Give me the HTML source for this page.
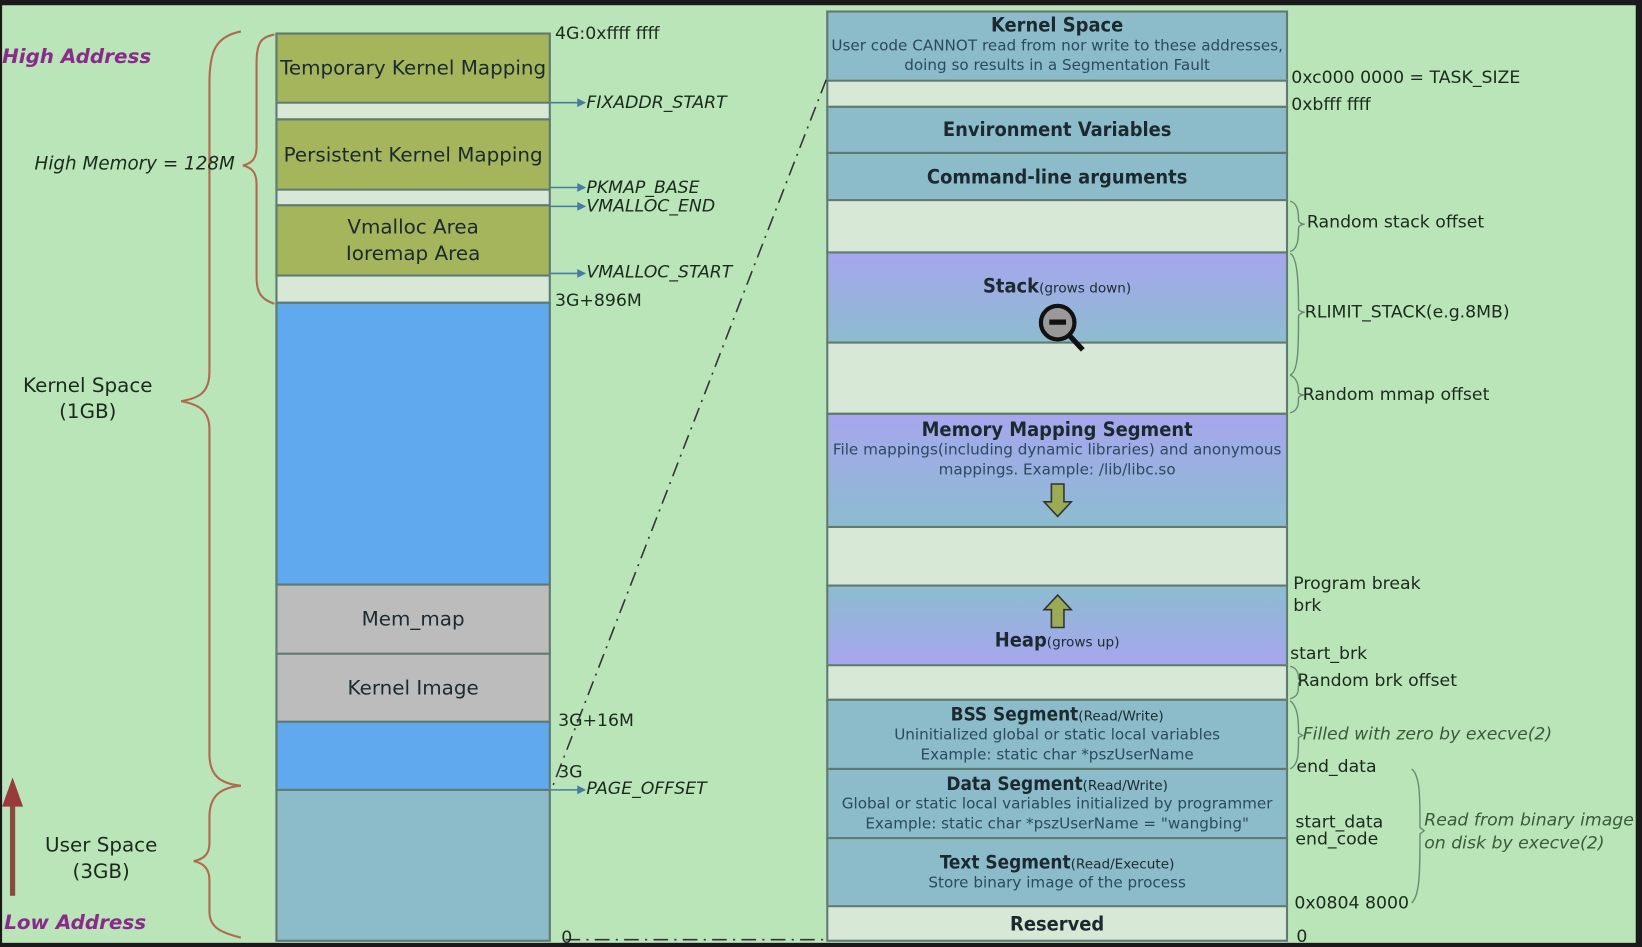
<!DOCTYPE html>
<html><head><meta charset="utf-8"><style>
html,body{margin:0;padding:0;background:#1a1a1a;}
#wrap{width:1642px;height:947px;overflow:hidden;position:relative;background:#1a1a1a;}
#s{position:absolute;left:0;top:0;width:1568px;height:904px;transform:scale(1.0472,1.0476);transform-origin:0 0;font-family:"DejaVu Sans Condensed","DejaVu Sans","Liberation Sans",sans-serif;}
#bg{position:absolute;left:2px;top:5px;width:1560px;height:895px;background:#b9e5b9;}
.b{position:absolute;box-sizing:border-box;border:2px solid #5f7a70;text-align:center;color:#1c2a30;display:flex;flex-direction:column;justify-content:center;align-items:center;}
.ol{background:#a5b55b;font-size:19px;font-family:"DejaVu Sans",sans-serif;}
.gp{background:#d8e8d6;}
.bl{background:#60a9ee;}
.gr{background:#bcbcbc;font-size:19px;font-family:"DejaVu Sans",sans-serif;}
.st{background:#8cbcca;}
.t{position:absolute;font-size:16.5px;color:#1c2a1c;white-space:nowrap;font-family:"DejaVu Sans",sans-serif;}
.i{font-style:italic;}
.h{font-weight:bold;font-size:19px;}
.sm{font-size:14.5px;line-height:19px;font-family:"DejaVu Sans",sans-serif;}
.sx{font-size:13px;font-weight:normal;font-family:"DejaVu Sans",sans-serif;}
</style></head><body><div id="wrap"><div id="s">
<div id="bg"></div>
<div class="b ol" style="left:263px;top:31px;width:263px;height:68px;">Temporary Kernel Mapping</div>
<div class="b gp" style="left:263px;top:97px;width:263px;height:18px;"></div>
<div class="b ol" style="left:263px;top:113px;width:263px;height:69px;">Persistent Kernel Mapping</div>
<div class="b gp" style="left:263px;top:180px;width:263px;height:17px;"></div>
<div class="b ol" style="left:263px;top:195px;width:263px;height:69px;line-height:25px;">Vmalloc Area<br>Ioremap Area</div>
<div class="b gp" style="left:263px;top:262px;width:263px;height:28px;"></div>
<div class="b bl" style="left:263px;top:288px;width:263px;height:271px;"></div>
<div class="b gr" style="left:263px;top:557px;width:263px;height:68px;">Mem_map</div>
<div class="b gr" style="left:263px;top:623px;width:263px;height:67px;">Kernel Image</div>
<div class="b bl" style="left:263px;top:688px;width:263px;height:67px;"></div>
<div class="b st" style="left:263px;top:753px;width:263px;height:146px;"></div>
<div class="b st" style="left:789px;top:10px;width:441px;height:68px;justify-content:flex-start;"><div class="h" style="margin-top:1px">Kernel Space</div><div class="sm" style="color:#2a4a60">User code CANNOT read from nor write to these addresses,<br>doing so results in a Segmentation Fault</div></div>
<div class="b gp" style="left:789px;top:76px;width:441px;height:27px;"></div>
<div class="b st h" style="left:789px;top:101px;width:441px;height:46px;">Environment Variables</div>
<div class="b st h" style="left:789px;top:145px;width:441px;height:47px;">Command-line arguments</div>
<div class="b gp" style="left:789px;top:190px;width:441px;height:52px;"></div>
<div class="b" style="left:789px;top:240px;width:441px;height:88px;background:linear-gradient(#a7a6ee,#8cbcd0);justify-content:flex-start;"><div class="h" style="margin-top:20px">Stack<span class="sx">(grows down)</span></div></div>
<div class="b gp" style="left:789px;top:326px;width:441px;height:70px;"></div>
<div class="b" style="left:789px;top:394px;width:441px;height:110px;background:linear-gradient(#a7a6ee,#8cbcd0);justify-content:flex-start;"><div class="h" style="margin-top:3px">Memory Mapping Segment</div><div class="sm" style="color:#2a4a60">File mappings(including dynamic libraries) and anonymous<br>mappings. Example: /lib/libc.so</div>
<svg width="30" height="34" style="margin-top:2px"><path d="M9 1 H21 V18 H28 L15 32 L2 18 H9 Z" fill="#9aaa55" stroke="#333" stroke-width="1.5"/></svg></div>
<div class="b gp" style="left:789px;top:502px;width:441px;height:58px;"></div>
<div class="b" style="left:789px;top:558px;width:441px;height:78px;background:linear-gradient(#8cbcd0,#a7a6ee);justify-content:flex-start;">
<svg width="30" height="34" style="margin-top:6px"><path d="M9 33 H21 V16 H28 L15 2 L2 16 H9 Z" fill="#9aaa55" stroke="#333" stroke-width="1.5"/></svg>
<div class="h">Heap<span class="sx">(grows up)</span></div></div>
<div class="b gp" style="left:789px;top:634px;width:441px;height:35px;"></div>
<div class="b st" style="left:789px;top:667px;width:441px;height:68px;"><div class="h" style="font-size:18px">BSS Segment<span class="sx">(Read/Write)</span></div><div class="sm" style="color:#2a4a60">Uninitialized global or static local variables<br>Example: static char *pszUserName</div></div>
<div class="b st" style="left:789px;top:733px;width:441px;height:68px;"><div class="h" style="font-size:18px">Data Segment<span class="sx">(Read/Write)</span></div><div class="sm" style="color:#2a4a60">Global or static local variables initialized by programmer<br>Example: static char *pszUserName = "wangbing"</div></div>
<div class="b st" style="left:789px;top:799px;width:441px;height:67px;"><div class="h" style="font-size:18px">Text Segment<span class="sx">(Read/Execute)</span></div><div class="sm" style="color:#2a4a60">Store binary image of the process</div></div>
<div class="b gp h" style="left:789px;top:864px;width:441px;height:35px;">Reserved</div>
<svg style="position:absolute;left:0;top:0" width="1568" height="904">
<g fill="none" stroke="#b06a50" stroke-width="2">
<path d="M230 30 C205 35 200 50 200 80 L200 355 C200 375 190 380 173 383 C190 386 200 392 200 410 L200 720 C200 740 210 748 230 750"/>
<path d="M230 750 C210 752 200 760 200 780 L200 805 C200 815 195 820 185 822 C195 824 200 830 200 840 L200 870 C200 885 210 890 230 895"/>
<path d="M262 33 C250 35 245 40 245 60 L245 140 C245 152 240 156 232 158 C240 160 245 164 245 176 L245 265 C245 280 250 286 262 290"/>
</g>
<g fill="none" stroke="#6a8a70" stroke-width="1.3">
<path d="M1232 192 C1240 194 1240 205 1240 210 C1240 213 1244 214 1246 214 C1244 214 1240 215 1240 218 C1240 225 1240 238 1232 240"/>
<path d="M1232 242 C1240 245 1240 280 1240 295 C1240 297 1244 298 1246 298 C1244 298 1240 300 1240 302 C1240 330 1240 355 1232 358"/>
<path d="M1232 358 C1240 362 1240 370 1240 375 C1240 376 1244 377 1246 377 C1244 377 1240 378 1240 380 C1240 385 1240 392 1232 394"/>
<path d="M1232 636 C1240 638 1240 645 1240 648 L1244 650 L1240 652 C1240 660 1240 665 1232 667"/>
<path d="M1232 669 C1240 675 1240 690 1240 700 L1244 702 L1240 704 C1240 720 1240 730 1232 734"/>
<path d="M1348 734 C1356 740 1356 760 1356 790 L1360 793 L1356 796 C1356 830 1356 855 1348 862"/>
</g>
<g stroke="#4a7aa0" stroke-width="1.5" fill="#4a7aa0">
<line x1="526" y1="98" x2="552" y2="98"/><path d="M552 95 L558 98 L552 101Z"/>
<line x1="526" y1="179" x2="552" y2="179"/><path d="M552 176 L558 179 L552 182Z"/>
<line x1="526" y1="197" x2="552" y2="197"/><path d="M552 194 L558 197 L552 200Z"/>
<line x1="526" y1="261" x2="552" y2="261"/><path d="M552 258 L558 261 L552 264Z"/>
<line x1="526" y1="754" x2="552" y2="754"/><path d="M552 751 L558 754 L552 757Z"/>
</g>
<g stroke="#333" stroke-width="1.5" fill="none" stroke-dasharray="14,6,2,6">
<line x1="789" y1="76" x2="528" y2="750"/>
<line x1="540" y1="897" x2="789" y2="897"/>
</g>
<line x1="12" y1="855" x2="12" y2="768" stroke="#8a4a40" stroke-width="5"/>
<path d="M2 770 L12 742 L22 770Z" fill="#9a3a3a"/>
<circle cx="1010" cy="308" r="16" fill="#999" stroke="#111" stroke-width="4"/>
<line x1="1021" y1="320" x2="1034" y2="334" stroke="#111" stroke-width="5"/>
<rect x="1002" y="305" width="16" height="5" fill="#111"/>
</svg>
<div class="t i" style="left:2px;top:43px;font-size:19px;font-weight:bold;color:#8a2a8a;">High Address</div>
<div class="t i" style="left:4px;top:870px;font-size:19px;font-weight:bold;color:#8a2a8a;">Low Address</div>
<div class="t i" style="left:33px;top:147px;font-size:17.5px;">High Memory = 128M</div>
<div class="t" style="left:22px;top:356px;font-size:19px;text-align:center;line-height:25px;">Kernel Space<br>(1GB)</div>
<div class="t" style="left:43px;top:795px;font-size:19px;text-align:center;line-height:25px;">User Space<br>(3GB)</div>
<div class="t" style="left:530px;top:22px;">4G:0xffff ffff</div>
<div class="t i" style="left:560px;top:88px;">FIXADDR_START</div>
<div class="t i" style="left:560px;top:169px;">PKMAP_BASE</div>
<div class="t i" style="left:560px;top:187px;">VMALLOC_END</div>
<div class="t i" style="left:560px;top:250px;">VMALLOC_START</div>
<div class="t" style="left:530px;top:277px;">3G+896M</div>
<div class="t" style="left:533px;top:678px;">3G+16M</div>
<div class="t" style="left:533px;top:727px;">3G</div>
<div class="t i" style="left:560px;top:743px;">PAGE_OFFSET</div>
<div class="t" style="left:536px;top:885px;">0</div>
<div class="t" style="left:1233px;top:64px;">0xc000 0000 = TASK_SIZE</div>
<div class="t" style="left:1233px;top:90px;">0xbfff ffff</div>
<div class="t" style="left:1248px;top:202px;">Random stack offset</div>
<div class="t" style="left:1246px;top:288px;">RLIMIT_STACK(e.g.8MB)</div>
<div class="t" style="left:1244px;top:367px;">Random mmap offset</div>
<div class="t" style="left:1235px;top:546px;line-height:21px;">Program break<br>brk</div>
<div class="t" style="left:1232px;top:614px;">start_brk</div>
<div class="t" style="left:1239px;top:640px;">Random brk offset</div>
<div class="t i" style="left:1244px;top:691px;color:#3a5a3a;">Filled with zero by execve(2)</div>
<div class="t" style="left:1238px;top:722px;">end_data</div>
<div class="t" style="left:1237px;top:777px;line-height:16px;">start_data<br>end_code</div>
<div class="t i" style="left:1360px;top:772px;color:#3a5a3a;line-height:22px;">Read from binary image<br>on disk by execve(2)</div>
<div class="t" style="left:1236px;top:852px;">0x0804 8000</div>
<div class="t" style="left:1238px;top:884px;">0</div>
</div></div></body></html>
